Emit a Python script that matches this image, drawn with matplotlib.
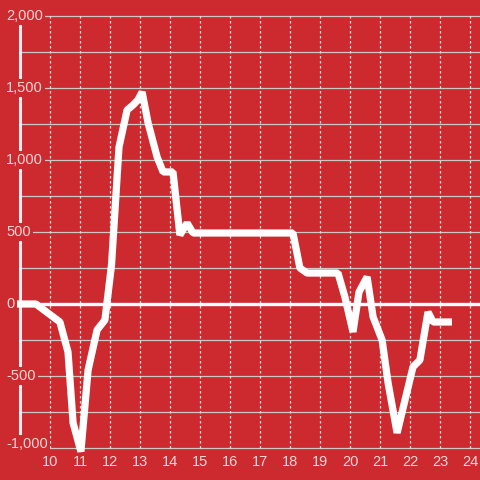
import matplotlib.pyplot as plt

# hours of day and values
hours = [8.9, 9.53, 10.33, 10.6, 10.77, 11.03, 11.27, 11.57, 11.83, 12.05,
         12.3, 12.57, 12.77, 12.93, 13.07, 13.27, 13.57, 13.77, 14.1, 14.33,
         14.57, 14.77, 18.1, 18.33, 18.57, 19.6, 19.83, 20.1, 20.3, 20.57,
         20.77, 21.07, 21.27, 21.57, 22.1, 22.33, 22.6, 22.77, 23.4]
values = [0, 0, -125, -333, -826, -1025, -458, -180, -111, 270,
          1090, 1347, 1382, 1417, 1472, 1257, 1021, 917, 917, 479,
          562, 493, 493, 250, 215, 215, 49, -194, 83, 188,
          -90, -250, -549, -895, -437, -389, -56, -125, -125]

x_ticks = list(range(10, 25))
y_ticks = [-1000, -500, 0, 500, 1000, 1500, 2000]
y_grid = list(range(-1000, 2001, 250))

BG = '#cc2a2f'
TXT = '#f3d6d7'
GRID = '#cfc6c6'

fig = plt.figure(figsize=(4.8, 4.8), dpi=100, facecolor=BG)
ax = fig.add_axes([0, 0, 1, 1])
ax.set_facecolor(BG)
ax.set_xlim(10 - 50 / 30, 10 + 430 / 30)
ax.set_ylim(-176 / 72 * 500, 304 / 72 * 500)
ax.axis('off')

# grid
for y in y_grid:
    ax.plot([9, 24.5], [y, y], color=GRID, lw=0.9, zorder=1)
for x in x_ticks:
    ax.plot([x, x], [-1000, 2000], color='#f0e0e0', lw=0.9, ls=(0, (2, 2)), zorder=1)
ax.plot([9, 24.5], [0, 0], color='white', lw=2.4, zorder=2)
ax.plot([9, 9], [-1000, 2000], color='#f4eeee', lw=2.2, zorder=2)

ax.plot(hours, values, color='white', lw=5.2, solid_joinstyle='bevel',
        solid_capstyle='butt', zorder=3)

# tick labels with background boxes that hide the grid behind them
for y in y_ticks:
    ty = -970 if y == -1000 else y
    ax.text(9 - 14 / 30, ty, f'{y:,}', color=TXT, fontsize=10.5, family='Liberation Sans',
            ha='left', va='center', zorder=5,
            bbox=dict(facecolor=BG, edgecolor='none', pad=1.5))
for x in x_ticks:
    ax.text(x, -1095, str(x), color=TXT, fontsize=10.5, family='Liberation Sans',
            ha='center', va='center', zorder=5)

fig.savefig('out.png', dpi=100, facecolor=BG)
